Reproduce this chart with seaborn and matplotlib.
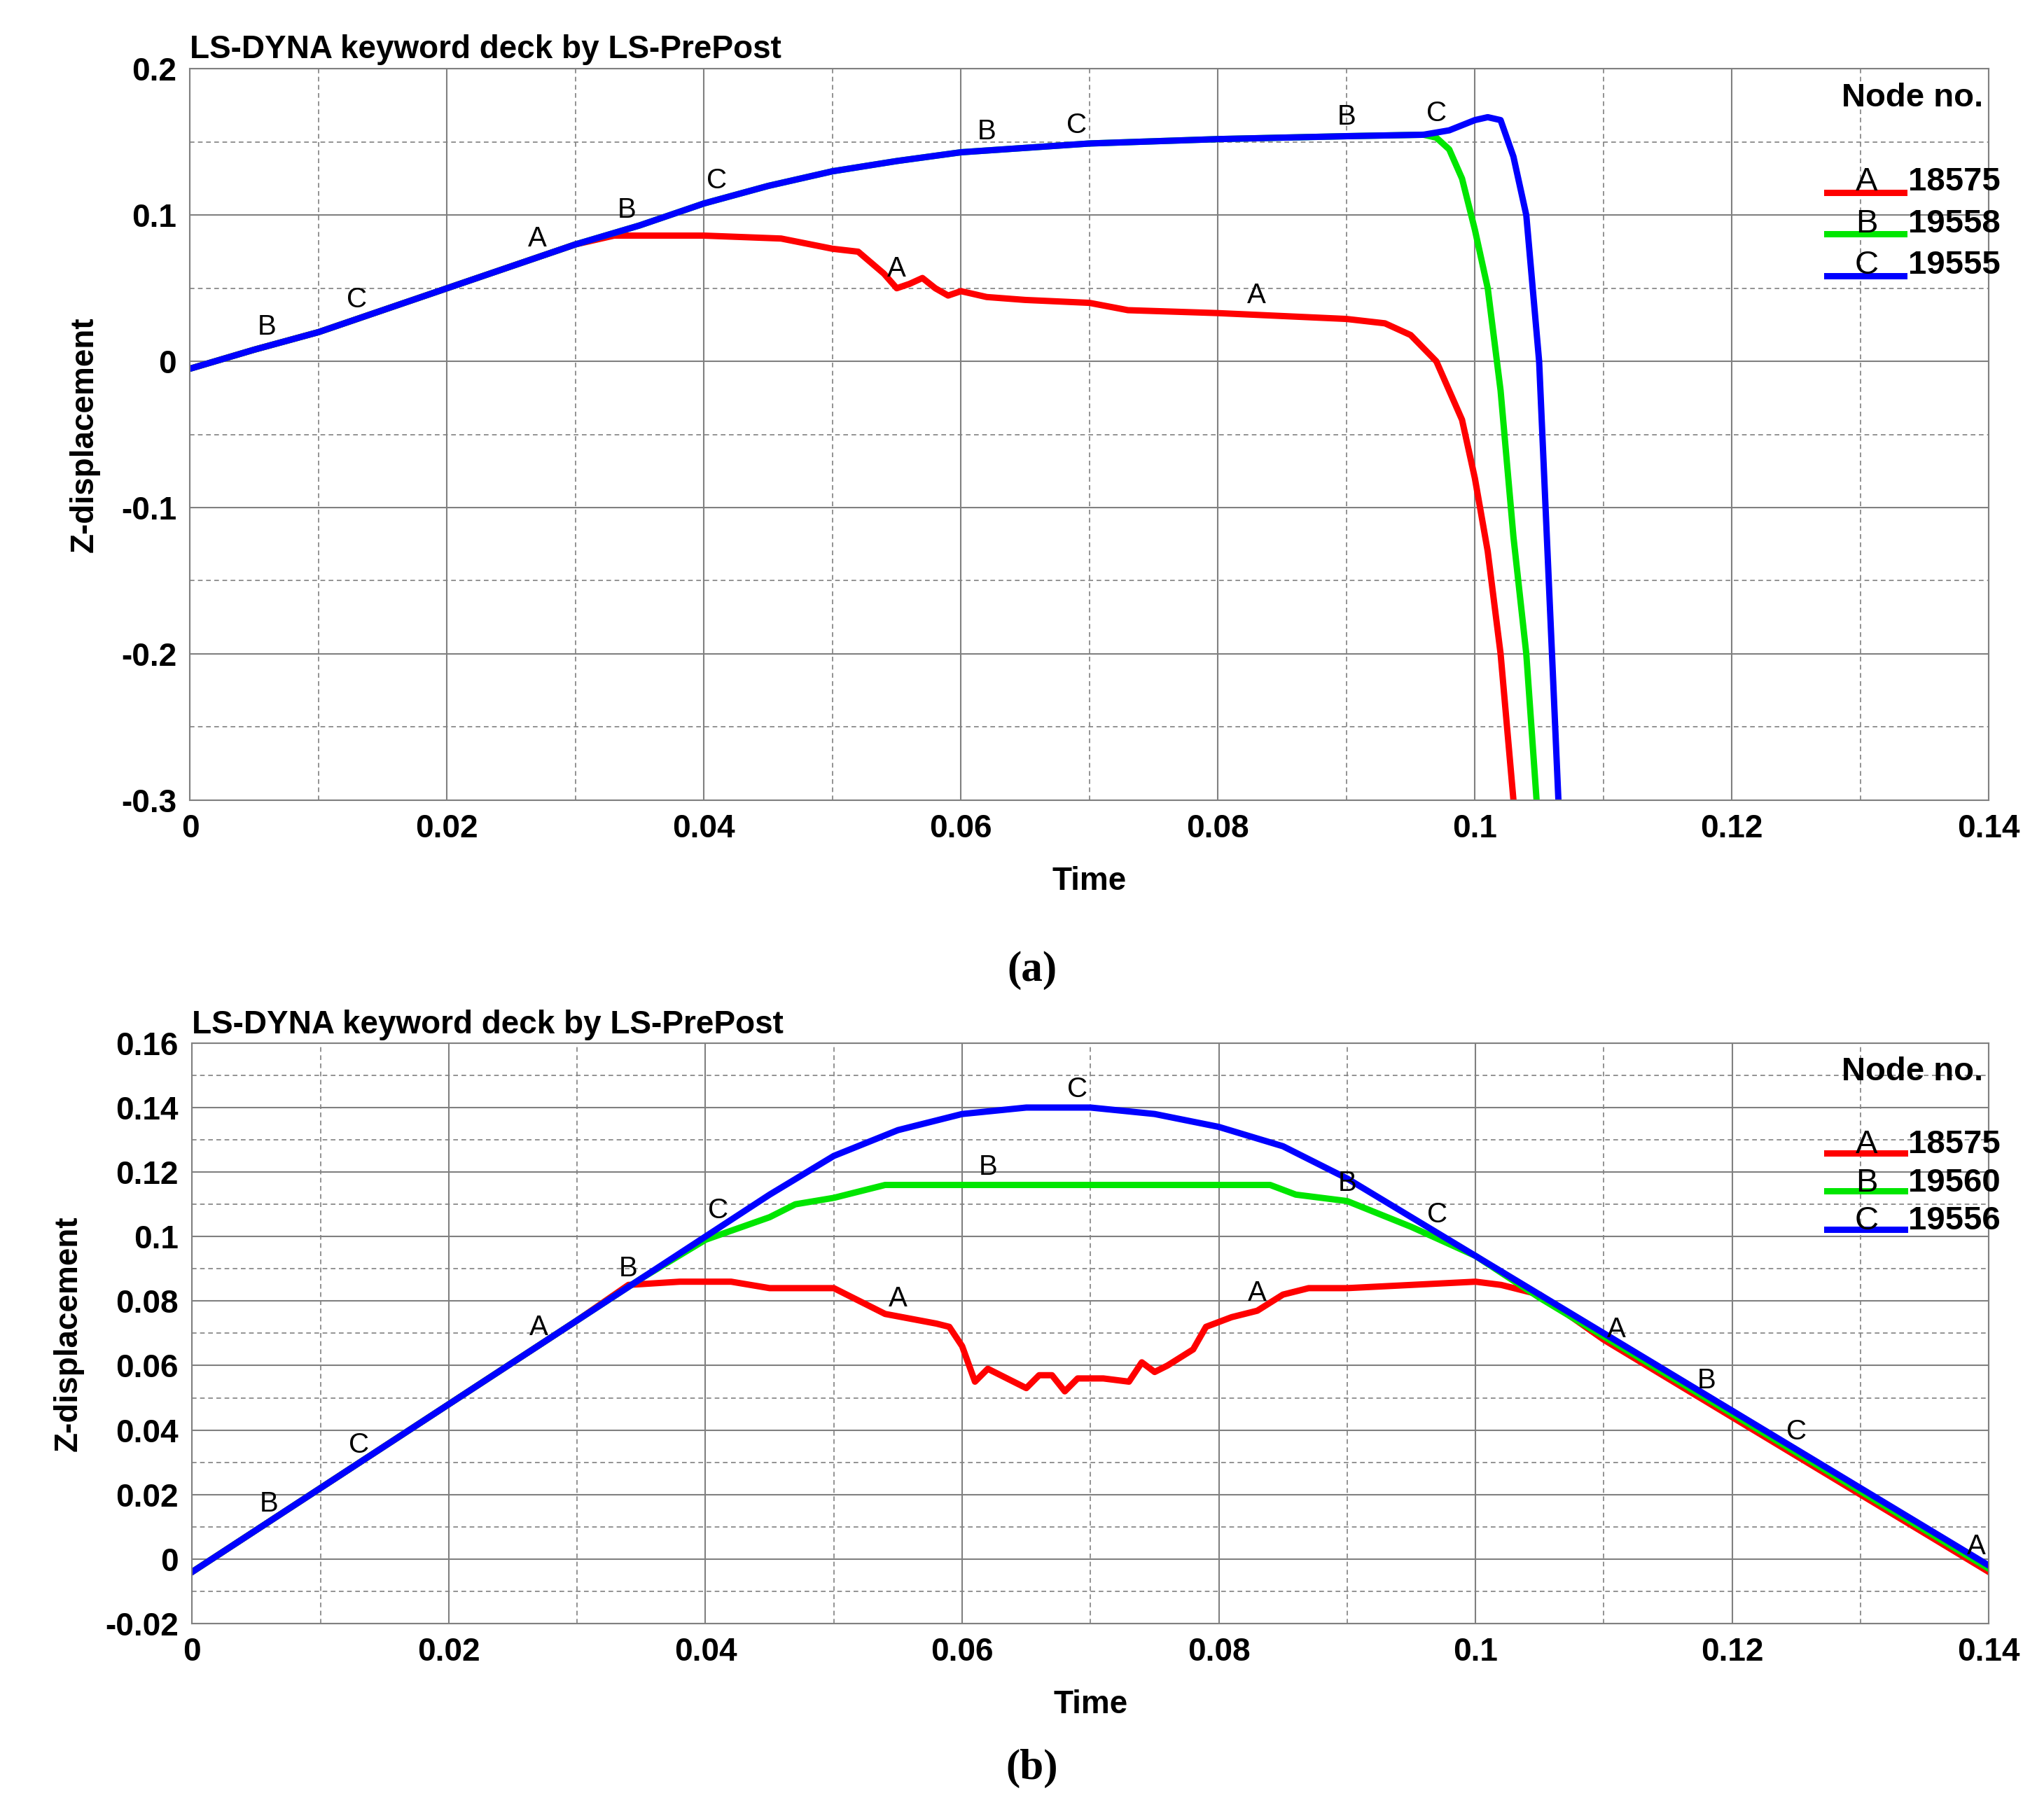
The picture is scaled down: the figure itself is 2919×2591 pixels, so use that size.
import numpy as np
import pandas as pd
import matplotlib
matplotlib.use("Agg")
import matplotlib.pyplot as plt
from matplotlib.ticker import MultipleLocator
import seaborn as sns

# ---------------- data panel (a) ----------------
a_t_gb = [0, .005, .01, .015, .02, .025, .03, .035, .04, .045, .05, .055, .06, .065, .07, .08, .09, .096]
a_v_gb = [-.005, .008, .02, .035, .05, .065, .08, .093, .108, .12, .13, .137, .143, .146, .149, .152, .154, .155]
a_t_blue_end = [.098, .1, .101, .102, .103, .104, .105, .106, .1065]
a_v_blue_end = [.158, .165, .167, .165, .14, .1, .0, -.2, -.3]
a_t_green_end = [.097, .098, .099, .1, .101, .102, .103, .104, .1048]
a_v_green_end = [.153, .145, .125, .09, .05, -.02, -.12, -.2, -.3]
a_t_red = [.033, .04, .046, .05, .052, .054, .055, .056, .057, .058, .059, .06, .062, .065, .07, .073,
           .08, .085, .09, .093, .095, .097, .099, .1, .101, .102, .103]
a_v_red = [.086, .086, .084, .077, .075, .06, .05, .053, .057, .05, .045, .048, .044, .042, .04, .035,
           .033, .031, .029, .026, .018, .0, -.04, -.08, -.13, -.2, -.3]

# ---------------- data panel (b) ----------------
b_t_blue = [0, .01, .02, .03, .035, .04, .045, .05, .055, .06, .065, .07, .075, .08, .085, .09, .095,
            .1, .105, .11, .12, .13, .14]
b_v_blue = [-.004, .022, .048, .074, .087, .1, .113, .125, .133, .138, .14, .14, .138, .134, .128, .118,
            .106, .094, .082, .07, .046, .022, -.002]
b_t_green = [0, .01, .02, .03, .035, .04, .045, .047, .05, .054, .06, .07, .078, .084, .086, .09, .095,
             .1, .105, .11, .12, .13, .14]
b_v_green = [-.004, .022, .048, .074, .087, .099, .106, .11, .112, .116, .116, .116, .116, .116, .113, .111,
             .103, .094, .081, .069, .045, .021, -.003]
b_t_red = [0, .01, .02, .03, .034, .038, .042, .045, .05, .052, .054, .058, .059, .06, .061, .062, .063,
           .065, .066, .067, .068, .069, .071, .073, .074, .075, .076, .078, .079, .081, .083, .085, .087,
           .09, .095, .1, .102, .105, .11, .12, .13, .14]
b_v_red = [-.004, .022, .048, .074, .085, .086, .086, .084, .084, .08, .076, .073, .072, .066, .055, .059,
           .057, .053, .057, .057, .052, .056, .056, .055, .061, .058, .06, .065, .072, .075, .077, .082,
           .084, .084, .085, .086, .085, .082, .068, .044, .02, -.004]

label_times_a = [.006, .013, .027, .034, .041, .055, .062, .069, .083, .09, .097]
label_times_b = [.006, .013, .027, .034, .041, .055, .062, .069, .083, .09, .097, .111, .118, .125, .139]
label_seq = ["B", "C", "A"]
letters = ["A", "B", "C"]

nodes_a = ["18575", "19558", "19555"]
nodes_b = ["18575", "19560", "19556"]
colors = ["#ff0000", "#00e600", "#0000ff"]

FONT = "Liberation Sans"

gb_t = np.array(a_t_gb)
gb_v = np.array(a_v_gb)
red_mask = gb_t < a_t_red[0]
ser_a = {
    "A": (np.r_[gb_t[red_mask], a_t_red], np.r_[gb_v[red_mask], a_v_red]),
    "B": (np.r_[gb_t, a_t_green_end], np.r_[gb_v, a_v_green_end]),
    "C": (np.r_[gb_t, a_t_blue_end], np.r_[gb_v, a_v_blue_end]),
}
ser_b = {
    "A": (np.array(b_t_red), np.array(b_v_red)),
    "B": (np.array(b_t_green), np.array(b_v_green)),
    "C": (np.array(b_t_blue), np.array(b_v_blue)),
}

fig = plt.figure(figsize=(29.19, 25.91), dpi=100)
ax1 = fig.add_axes([0.093, 0.559, 0.880, 0.403])
ax2 = fig.add_axes([0.094, 0.105, 0.879, 0.320])


def draw(ax, ser, nodes, ltimes, ylim, ymaj, ymin, yfmt, legy):
    rows = []
    for k, (t, v) in ser.items():
        for ti, vi in zip(t, v):
            rows.append((k, ti, vi))
    df = pd.DataFrame(rows, columns=["curve", "Time", "Z"])
    sns.lineplot(data=df, x="Time", y="Z", hue="curve", palette=dict(zip(letters, colors)),
                 hue_order=["A", "B", "C"], sort=False, estimator=None, lw=6.5, ax=ax, legend=False)
    for i, tl in enumerate(ltimes):
        k = label_seq[i % 3]
        t, v = ser[k]
        yv = np.interp(tl, t, v)
        ax.text(tl, yv + 0.004 * (ylim[1] - ylim[0]) / 0.5, k, fontsize=29, family=FONT,
                ha="center", va="bottom")
    ax.set_xlim(0, 0.14)
    ax.set_ylim(*ylim)
    ax.xaxis.set_major_locator(MultipleLocator(0.02))
    ax.xaxis.set_minor_locator(MultipleLocator(0.01))
    ax.yaxis.set_major_locator(MultipleLocator(ymaj))
    ax.yaxis.set_minor_locator(MultipleLocator(ymin))
    ax.grid(which="major", color="#808080", lw=1.5, ls="-")
    ax.grid(which="minor", color="#808080", lw=1.2, ls=(0, (4, 3)))
    ax.set_axisbelow(True)
    ax.tick_params(which="both", length=0, labelsize=33, pad=14)
    xt = np.arange(0, 0.1401, 0.02)
    ax.set_xticks(xt)
    ax.set_xticklabels(["0" if x == 0 else f"{x:.2f}".rstrip("0") for x in xt])
    yt = np.arange(ylim[0], ylim[1] + 1e-9, ymaj)
    ax.set_yticks(yt)
    ax.set_yticklabels(["0" if abs(y) < 1e-9 else yfmt(y) for y in yt])
    for lab in ax.get_xticklabels() + ax.get_yticklabels():
        lab.set_fontweight("bold")
        lab.set_family(FONT)
    ax.set_xlabel("Time", fontsize=33, fontweight="bold", family=FONT, labelpad=22)
    ax.set_ylabel("Z-displacement", fontsize=33, fontweight="bold", family=FONT, labelpad=22)
    for s in ax.spines.values():
        s.set_color("#808080")
        s.set_linewidth(1.5)
    ax.text(0.0, 1.005, "LS-DYNA keyword deck by LS-PrePost", transform=ax.transAxes,
            fontsize=33, fontweight="bold", family=FONT, ha="left", va="bottom")
    ax.text(0.997, legy[0], "Node no.", transform=ax.transAxes, fontsize=34, fontweight="bold",
            family=FONT, ha="right", va="center")
    for i in range(3):
        yy = legy[1] - i * legy[2]
        ax.plot([0.91, 0.953], [yy - 0.014, yy - 0.014], transform=ax.transAxes, color=colors[i],
                lw=6.5, clip_on=False)
        ax.text(0.932, yy, letters[i], transform=ax.transAxes, fontsize=34, family=FONT,
                ha="center", va="center")
        ax.text(0.955, yy, nodes[i], transform=ax.transAxes, fontsize=34, fontweight="bold",
                family=FONT, ha="left", va="center")


draw(ax1, ser_a, nodes_a, label_times_a, (-0.3, 0.2), 0.1, 0.05, lambda y: f"{y:.1f}",
     (0.96, 0.845, 0.057))
draw(ax2, ser_b, nodes_b, label_times_b, (-0.02, 0.16), 0.02, 0.01,
     lambda y: f"{y:.2f}".rstrip("0").rstrip("."), (0.95, 0.825, 0.066))

fig.text(0.505, 0.465, "(a)", fontsize=44, fontweight="bold", family="Liberation Serif",
         ha="center", va="center")
fig.text(0.505, 0.025, "(b)", fontsize=44, fontweight="bold", family="Liberation Serif",
         ha="center", va="center")

fig.savefig("out.png", dpi=100, facecolor="white")
